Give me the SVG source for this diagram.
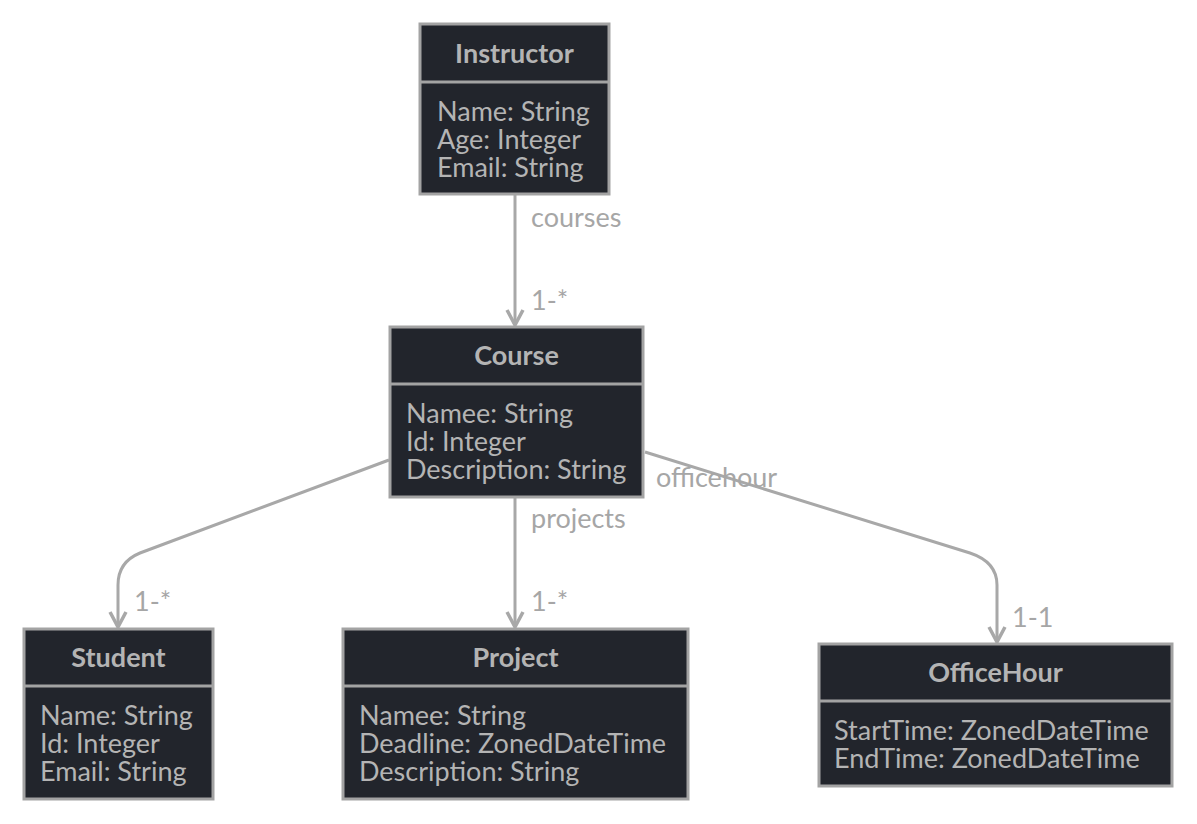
<svg xmlns="http://www.w3.org/2000/svg" width="1197" height="824" viewBox="0 0 1197 824">
<style>
.box{fill:#22252c;stroke:#a3a3a3;stroke-width:3}
.sep{stroke:#a3a3a3;stroke-width:3}
.title{font-family:"Lato","Liberation Sans",sans-serif;font-weight:bold;font-size:27px;fill:#b4b4b4;text-anchor:middle}
.attr{font-family:"Lato","Liberation Sans",sans-serif;font-size:27px;fill:#b4b4b4}
.lbl{font-family:"Lato","Liberation Sans",sans-serif;font-size:27px;fill:#a6a6a6}
.edge{fill:none;stroke:#a8a8a8;stroke-width:3;marker-end:url(#arrow)}
</style>
<defs>
<marker id="arrow" viewBox="0 0 20 20" refX="17" refY="10" markerWidth="20" markerHeight="20" markerUnits="userSpaceOnUse" orient="auto">
<path d="M2,2 L17,10 L2,18" fill="none" stroke="#a8a8a8" stroke-width="3.5" stroke-linejoin="miter"/>
</marker>
</defs>
<rect width="1197" height="824" fill="#ffffff"/>
<g id="connectors">
<path class="edge" d="M515,195 L515,325"/>
<path class="edge" d="M389,460 L140,553 Q118,562 118,585 L118,627"/>
<path class="edge" d="M515,497 L515,627"/>
<path class="edge" d="M645,452 L970,553 Q997,562 997,585 L997,642"/>
<text class="lbl" x="531" y="227">courses</text>
<text class="lbl" x="531" y="310">1-*</text>
<text class="lbl" x="531" y="528">projects</text>
<text class="lbl" x="531" y="611">1-*</text>
<text class="lbl" x="134" y="611">1-*</text>
<text class="lbl" x="656" y="487">officehour</text>
<text class="lbl" x="1012" y="627">1-1</text>
</g>
<g id="Instructor">
<rect class="box" x="420" y="24" width="189" height="170"/>
<line class="sep" x1="420" y1="82" x2="609" y2="82"/>
<text class="title" x="514.5" y="63">Instructor</text>
<text class="attr" x="437" y="121">Name: String</text>
<text class="attr" x="437" y="149">Age: Integer</text>
<text class="attr" x="437" y="177">Email: String</text>
</g>
<g id="Course">
<rect class="box" x="390" y="327" width="253" height="170"/>
<line class="sep" x1="390" y1="384" x2="643" y2="384"/>
<text class="title" x="516.5" y="365">Course</text>
<text class="attr" x="406" y="423">Namee: String</text>
<text class="attr" x="406" y="451">Id: Integer</text>
<text class="attr" x="406" y="479">Description: String</text>
</g>
<g id="Student">
<rect class="box" x="24" y="629" width="189" height="170"/>
<line class="sep" x1="24" y1="686" x2="213" y2="686"/>
<text class="title" x="118.5" y="667">Student</text>
<text class="attr" x="40" y="725">Name: String</text>
<text class="attr" x="40" y="753">Id: Integer</text>
<text class="attr" x="40" y="781">Email: String</text>
</g>
<g id="Project">
<rect class="box" x="343" y="629" width="345" height="170"/>
<line class="sep" x1="343" y1="686" x2="688" y2="686"/>
<text class="title" x="515.5" y="667">Project</text>
<text class="attr" x="359" y="725">Namee: String</text>
<text class="attr" x="359" y="753">Deadline: ZonedDateTime</text>
<text class="attr" x="359" y="781">Description: String</text>
</g>
<g id="OfficeHour">
<rect class="box" x="819" y="644" width="353" height="142"/>
<line class="sep" x1="819" y1="701" x2="1172" y2="701"/>
<text class="title" x="995.5" y="682">OfficeHour</text>
<text class="attr" x="834" y="740">StartTime: ZonedDateTime</text>
<text class="attr" x="834" y="768">EndTime: ZonedDateTime</text>
</g>
</svg>
